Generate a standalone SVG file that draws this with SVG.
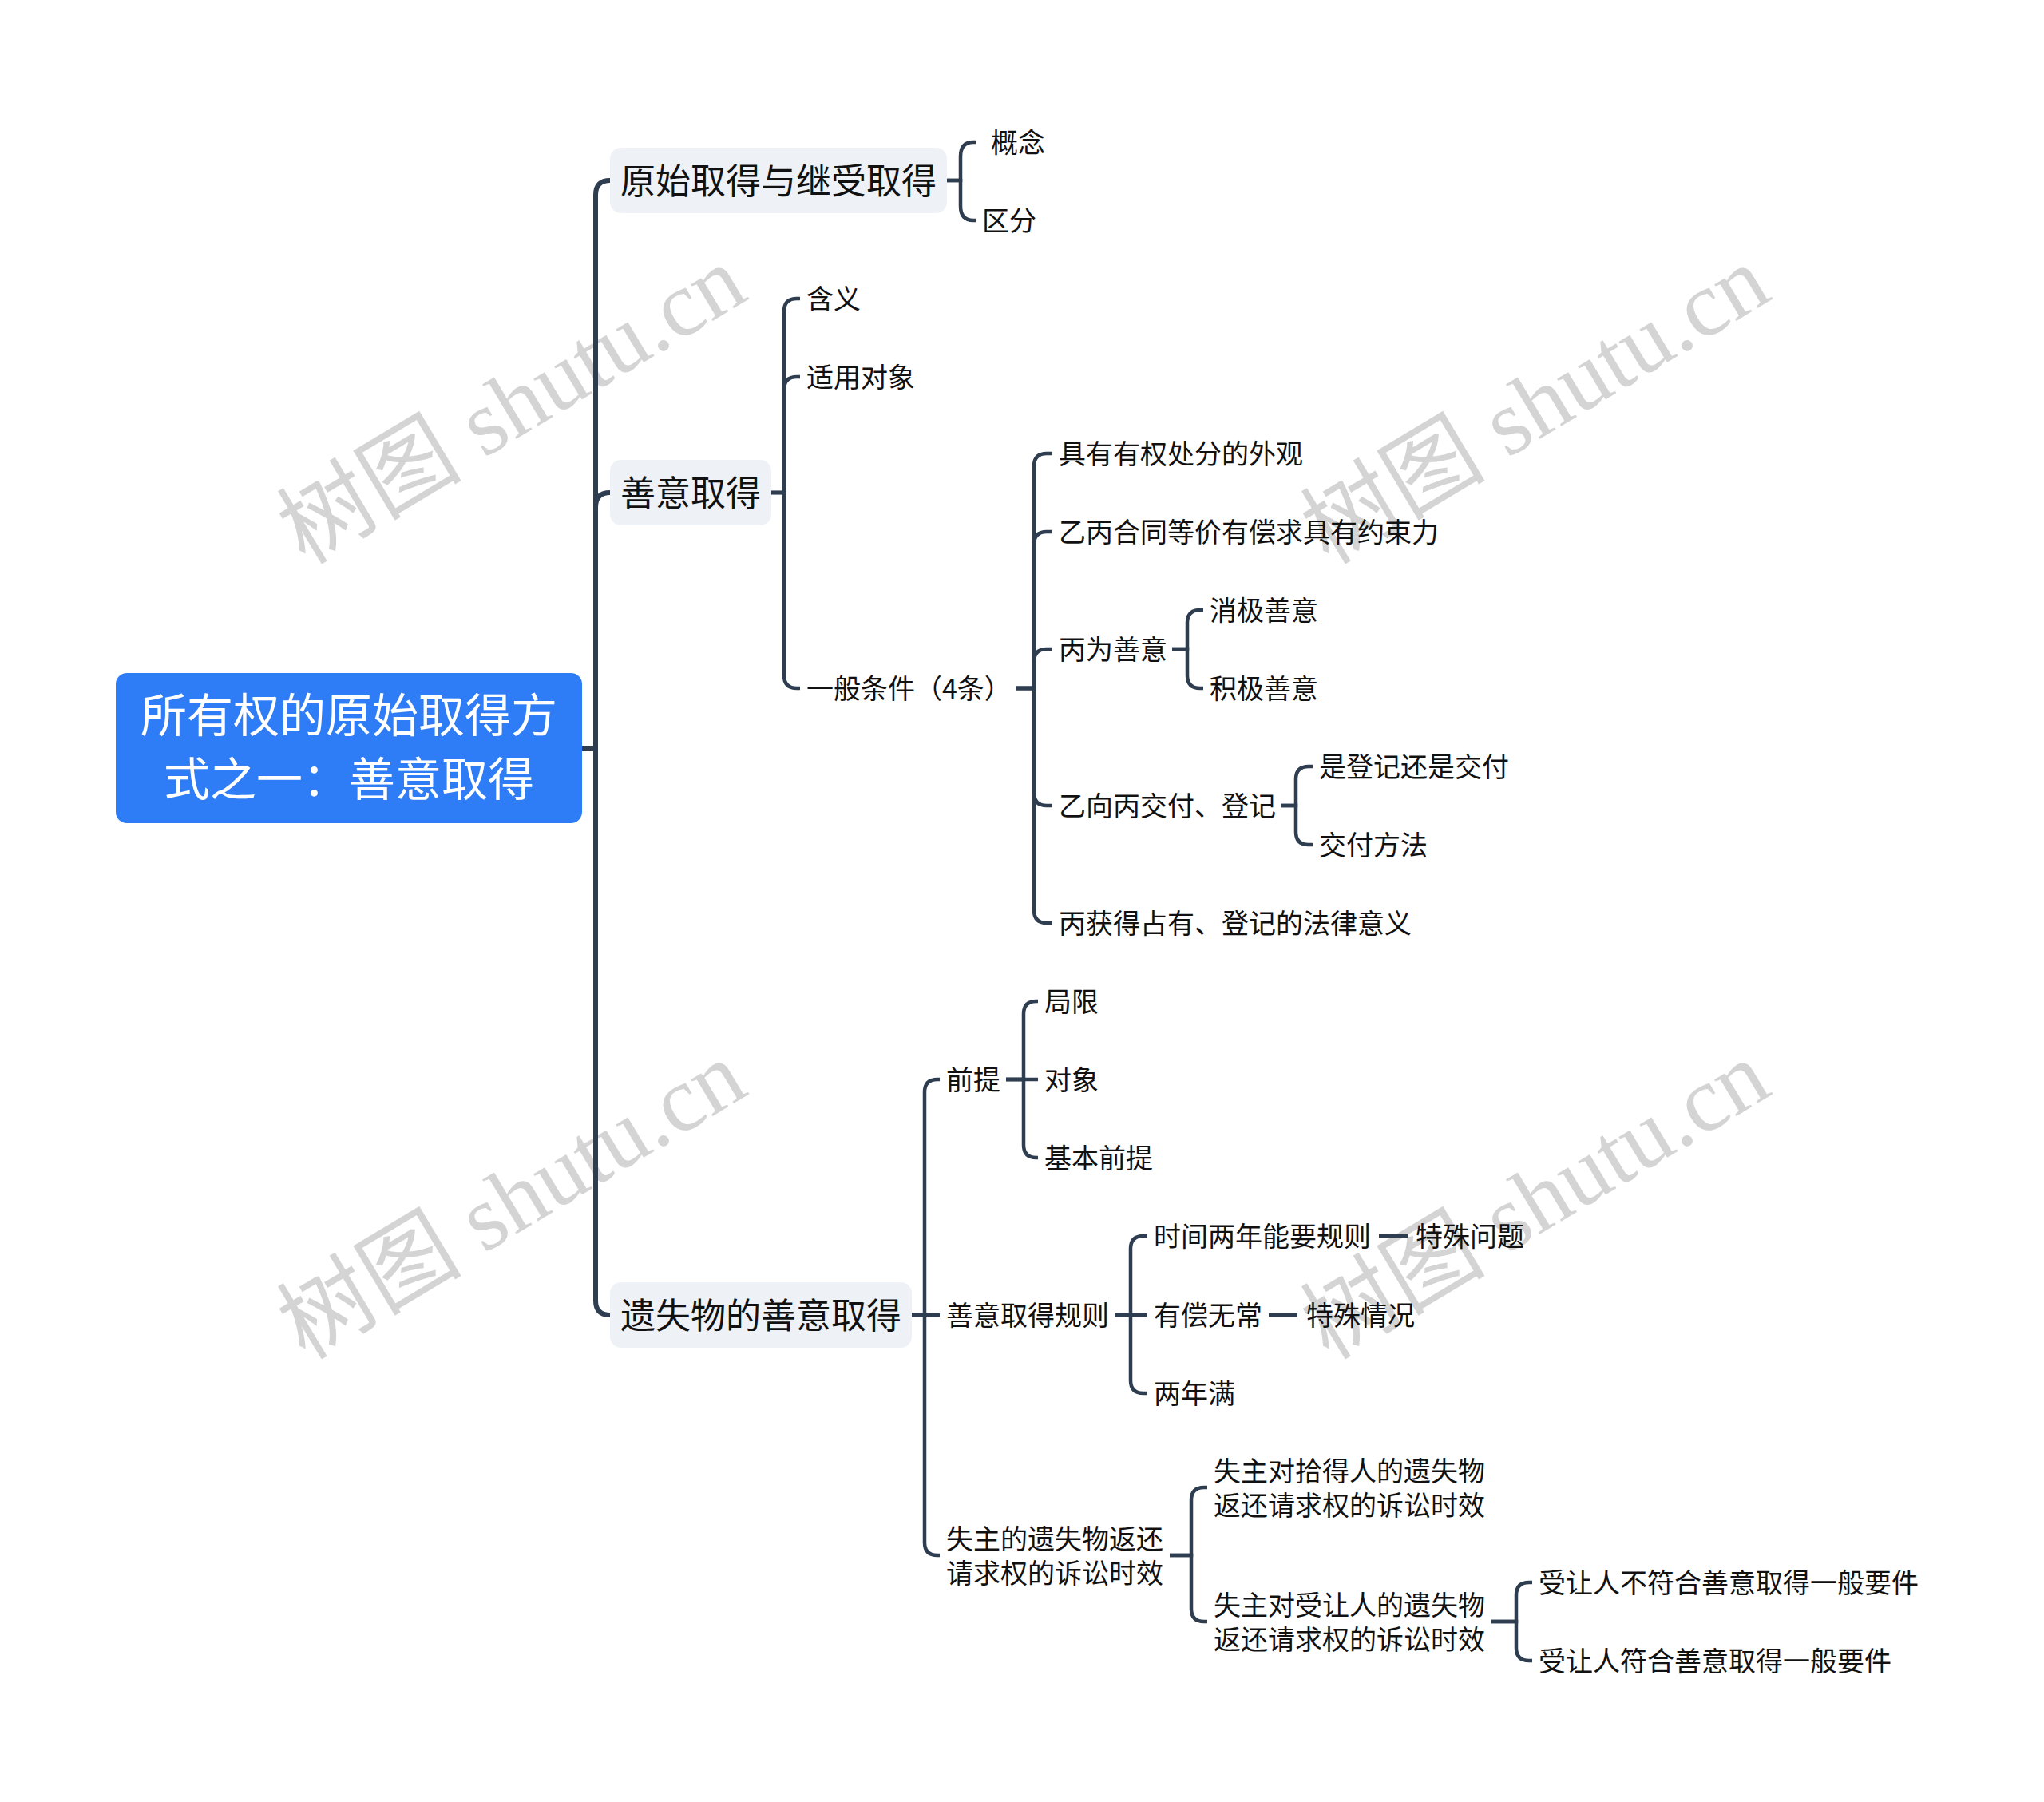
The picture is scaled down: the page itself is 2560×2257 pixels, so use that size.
<svg xmlns="http://www.w3.org/2000/svg" width="2560" height="2257" viewBox="0 0 2560 2257">
<style>
.wm{font-family:"Liberation Serif","Noto Sans CJK SC",serif;font-size:116px;fill:#d4d4d4;}
.t{font-family:"Noto Sans CJK SC","Noto Sans",sans-serif;font-size:34px;fill:#111;dominant-baseline:central;}
.t1{font-family:"Noto Sans CJK SC","Noto Sans",sans-serif;font-size:44px;fill:#111;dominant-baseline:central;}
.tr{font-family:"Noto Sans CJK SC","Noto Sans",sans-serif;font-size:58px;fill:#fff;dominant-baseline:central;text-anchor:middle;}
.b1{fill:#eef1f5;}
.c0{fill:none;stroke:#2e3d50;stroke-width:6;stroke-linecap:round;}
.c{fill:none;stroke:#2e3d50;stroke-width:4.5;stroke-linecap:butt;}
</style>
<rect width="2560" height="2257" fill="#ffffff"/>
<g id="watermarks">
<text class="wm" text-anchor="middle" transform="translate(661,541) rotate(-31)">树图 shutu.cn</text>
<text class="wm" text-anchor="middle" transform="translate(1943,541) rotate(-31)">树图 shutu.cn</text>
<text class="wm" text-anchor="middle" transform="translate(661,1537) rotate(-31)">树图 shutu.cn</text>
<text class="wm" text-anchor="middle" transform="translate(1943,1537) rotate(-31)">树图 shutu.cn</text>
</g>
<g id="connectors">
<path class="c0" d="M729,937 H746 V244 Q746,226 764,226"/>
<path class="c0" d="M729,937 H746 V635 Q746,617 764,617"/>
<path class="c0" d="M729,937 H746 V1629 Q746,1647 764,1647"/>
<path class="c" d="M1186,226 H1203 V196 Q1203,178 1219,178 H1222"/>
<path class="c" d="M1186,226 H1203 V258 Q1203,276 1219,276 H1222"/>
<path class="c" d="M966,617 H982 V390 Q982,374 998,374 H1002"/>
<path class="c" d="M966,617 H982 V488 Q982,472 998,472 H1002"/>
<path class="c" d="M966,617 H982 V846 Q982,862 998,862 H1002"/>
<path class="c" d="M1272,862 H1295 V584 Q1295,568 1311,568 H1318"/>
<path class="c" d="M1272,862 H1295 V682 Q1295,666 1311,666 H1318"/>
<path class="c" d="M1272,862 H1295 V829 Q1295,813 1311,813 H1318"/>
<path class="c" d="M1272,862 H1295 V993 Q1295,1009 1311,1009 H1318"/>
<path class="c" d="M1272,862 H1295 V1140 Q1295,1156 1311,1156 H1318"/>
<path class="c" d="M1468,813 H1487 V780 Q1487,764 1503,764 H1507"/>
<path class="c" d="M1468,813 H1487 V846 Q1487,862 1503,862 H1507"/>
<path class="c" d="M1604,1009 H1623 V976 Q1623,960 1639,960 H1644"/>
<path class="c" d="M1604,1009 H1623 V1042 Q1623,1058 1639,1058 H1644"/>
<path class="c" d="M1142,1647 H1158 V1368 Q1158,1352 1174,1352 H1177"/>
<path class="c" d="M1142,1647 H1177"/>
<path class="c" d="M1142,1647 H1158 V1932 Q1158,1948 1174,1948 H1177"/>
<path class="c" d="M1260,1352 H1282 V1270 Q1282,1254 1298,1254 H1300"/>
<path class="c" d="M1260,1352 H1300"/>
<path class="c" d="M1260,1352 H1282 V1434 Q1282,1450 1298,1450 H1300"/>
<path class="c" d="M1396,1647 H1416 V1564 Q1416,1548 1432,1548 H1437"/>
<path class="c" d="M1396,1647 H1437"/>
<path class="c" d="M1396,1647 H1416 V1729 Q1416,1745 1432,1745 H1437"/>
<path class="c" d="M1727,1548 H1763"/>
<path class="c" d="M1589,1647 H1625"/>
<path class="c" d="M1465,1948 H1492 V1879 Q1492,1863 1508,1863 H1512"/>
<path class="c" d="M1465,1948 H1492 V2015 Q1492,2031 1508,2031 H1512"/>
<path class="c" d="M1868,2031 H1899 V1998 Q1899,1982 1915,1982 H1919"/>
<path class="c" d="M1868,2031 H1899 V2064 Q1899,2080 1915,2080 H1919"/>
</g>
<g id="root">
<rect x="145" y="843" width="584" height="188" rx="14" fill="#2e7df6"/>
<text class="tr" x="437" y="892">所有权的原始取得方</text>
<text class="tr" x="437" y="972">式之一：善意取得</text>
</g>
<g id="n-yuanshi">
<rect class="b1" x="764" y="185" width="422" height="82" rx="14"/>
<text class="t1" x="777" y="224">原始取得与继受取得</text>
</g>
<g id="n-gainian"><text class="t" x="1241" y="176">概念</text></g>
<g id="n-qufen"><text class="t" x="1230" y="274">区分</text></g>
<g id="n-shanyi">
<rect class="b1" x="764" y="576" width="202" height="82" rx="14"/>
<text class="t1" x="777" y="615">善意取得</text>
</g>
<g id="n-hanyi"><text class="t" x="1010" y="372">含义</text></g>
<g id="n-shiyong"><text class="t" x="1010" y="470">适用对象</text></g>
<g id="n-yiban"><text class="t" x="1010" y="860">一般条件（4条）</text></g>
<g id="n-c1"><text class="t" x="1326" y="566">具有有权处分的外观</text></g>
<g id="n-c2"><text class="t" x="1326" y="664">乙丙合同等价有偿求具有约束力</text></g>
<g id="n-c3"><text class="t" x="1326" y="811">丙为善意</text></g>
<g id="n-c3a"><text class="t" x="1515" y="762">消极善意</text></g>
<g id="n-c3b"><text class="t" x="1515" y="860">积极善意</text></g>
<g id="n-c4"><text class="t" x="1326" y="1007">乙向丙交付、登记</text></g>
<g id="n-c4a"><text class="t" x="1652" y="958">是登记还是交付</text></g>
<g id="n-c4b"><text class="t" x="1652" y="1056">交付方法</text></g>
<g id="n-c5"><text class="t" x="1326" y="1154">丙获得占有、登记的法律意义</text></g>
<g id="n-yishi">
<rect class="b1" x="764" y="1606" width="378" height="82" rx="14"/>
<text class="t1" x="777" y="1645">遗失物的善意取得</text>
</g>
<g id="n-qianti"><text class="t" x="1185" y="1350">前提</text></g>
<g id="n-juxian"><text class="t" x="1308" y="1252">局限</text></g>
<g id="n-duixiang"><text class="t" x="1308" y="1350">对象</text></g>
<g id="n-jiben"><text class="t" x="1308" y="1448">基本前提</text></g>
<g id="n-guize"><text class="t" x="1185" y="1645">善意取得规则</text></g>
<g id="n-g1"><text class="t" x="1445" y="1546">时间两年能要规则</text></g>
<g id="n-g1a"><text class="t" x="1773" y="1546">特殊问题</text></g>
<g id="n-g2"><text class="t" x="1445" y="1645">有偿无常</text></g>
<g id="n-g2a"><text class="t" x="1636" y="1645">特殊情况</text></g>
<g id="n-g3"><text class="t" x="1445" y="1743">两年满</text></g>
<g id="n-shizhu">
<text class="t" x="1185" y="1925">失主的遗失物返还</text>
<text class="t" x="1185" y="1968">请求权的诉讼时效</text>
</g>
<g id="n-s1">
<text class="t" x="1520" y="1840">失主对拾得人的遗失物</text>
<text class="t" x="1520" y="1883">返还请求权的诉讼时效</text>
</g>
<g id="n-s2">
<text class="t" x="1520" y="2008">失主对受让人的遗失物</text>
<text class="t" x="1520" y="2051">返还请求权的诉讼时效</text>
</g>
<g id="n-s2a"><text class="t" x="1927" y="1980">受让人不符合善意取得一般要件</text></g>
<g id="n-s2b"><text class="t" x="1927" y="2078">受让人符合善意取得一般要件</text></g>
</svg>
